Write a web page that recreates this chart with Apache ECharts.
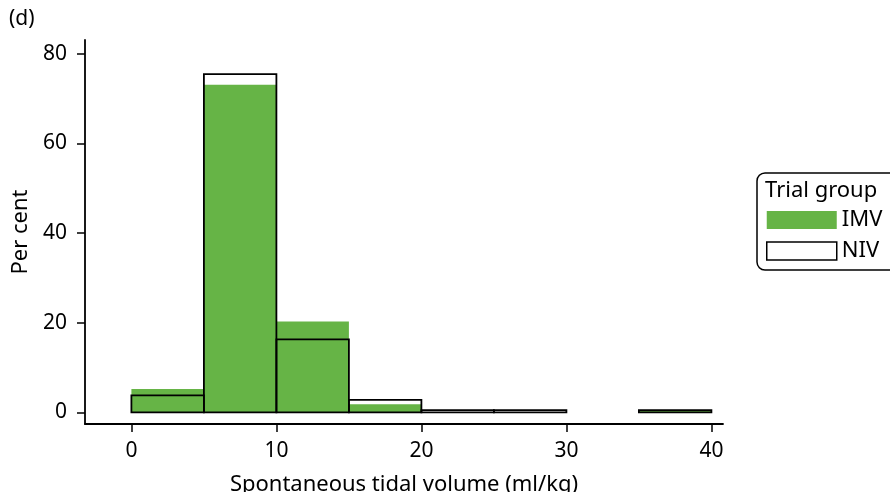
<!DOCTYPE html>
<html>
<head>
<meta charset="utf-8">
<script src="https://cdn.jsdelivr.net/npm/echarts@6/dist/echarts.min.js"></script>
<style>html,body{margin:0;padding:0;background:#fff}#c{width:890px;height:492px}</style>
</head>
<body>
<div id="c"></div>
<script>
const binStarts = [0, 5, 10, 15, 20, 25, 30, 35];
const binEnds   = [5, 10, 15, 20, 25, 30, 35, 40];
const imvValues = [5.2, 73.1, 20.3, 1.8, 0, 0, 0, 0.5];
const nivValues = [3.8, 75.5, 16.3, 2.8, 0.5, 0.5, 0, 0.5];
const xTicks = [0, 10, 20, 30, 40];
const yTicks = [0, 20, 40, 60, 80];

const GREEN = '#66b446';
const FONT = 'Noto Sans';

function rows(vals) {
  return binStarts.map((s, i) => [s, binEnds[i], vals[i]]);
}

function makeRender(style) {
  return function (params, api) {
    const v = api.value(2);
    if (!v) return null;
    const p0 = api.coord([api.value(0), v]);
    const p1 = api.coord([api.value(1), 0]);
    return {
      type: 'rect',
      shape: { x: p0[0], y: p0[1], width: p1[0] - p0[0], height: p1[1] - p0[1] },
      style: style
    };
  };
}

const chart = echarts.init(document.getElementById('c'), null, { renderer: 'canvas' });
chart.setOption({
  animation: false,
  textStyle: { fontFamily: FONT },
  title: [
    { text: '(d)', left: 4, top: 4, textStyle: { fontFamily: FONT, fontSize: 21, fontWeight: 'normal', color: '#000' } },
    { text: 'Trial group', left: 760, top: 175, textStyle: { fontFamily: FONT, fontSize: 22, fontWeight: 'normal', color: '#000' } }
  ],
  grid: { left: 85, top: 40, right: 167, bottom: 68, containLabel: false, outerBoundsMode: 'none' },
  xAxis: {
    type: 'value', min: -3.2, max: 40.8,
    name: 'Spontaneous tidal volume (ml/kg)', nameLocation: 'middle', nameGap: 50,
    nameTextStyle: { fontFamily: FONT, fontSize: 22, color: '#000' },
    axisLine: { show: true, onZero: false, lineStyle: { color: '#000', width: 1.8 } },
    axisTick: { show: true, length: 8, customValues: xTicks, lineStyle: { color: '#000', width: 1.5 } },
    axisLabel: { customValues: xTicks, fontFamily: FONT, fontSize: 21, color: '#000', margin: 17 },
    splitLine: { show: false }
  },
  yAxis: {
    type: 'value', min: -2.6, max: 83.1,
    name: 'Per cent', nameLocation: 'middle', nameGap: 52, nameRotate: 90,
    nameTextStyle: { fontFamily: FONT, fontSize: 22, color: '#000' },
    axisLine: { show: true, onZero: false, lineStyle: { color: '#000', width: 1.8 } },
    axisTick: { show: true, length: 8, customValues: yTicks, lineStyle: { color: '#000', width: 1.5 } },
    axisLabel: { customValues: yTicks, fontFamily: FONT, fontSize: 21, color: '#000', margin: 18 },
    splitLine: { show: false }
  },
  legend: {
    orient: 'vertical', left: 757, top: 173,
    padding: [36, 40, 8, 9],
    itemWidth: 70, itemHeight: 18, itemGap: 9,
    borderColor: '#000', borderWidth: 1.5, borderRadius: 8,
    backgroundColor: '#fff',
    icon: 'rect',
    textStyle: { fontFamily: FONT, fontSize: 22, color: '#000', padding: [0, 0, 0, 0] },
    data: [
      { name: 'IMV', itemStyle: { color: GREEN, borderWidth: 0 } },
      { name: 'NIV', itemStyle: { color: '#fff', borderColor: '#000', borderWidth: 1.5 } }
    ]
  },
  series: [
    {
      name: 'IMV', type: 'custom', data: rows(imvValues),
      encode: { x: [0, 1], y: 2 },
      itemStyle: { color: GREEN },
      renderItem: makeRender({ fill: GREEN, stroke: null })
    },
    {
      name: 'NIV', type: 'custom', data: rows(nivValues),
      encode: { x: [0, 1], y: 2 },
      itemStyle: { color: '#fff', borderColor: '#000' },
      z: 3,
      renderItem: makeRender({ fill: 'rgba(0,0,0,0)', stroke: '#000', lineWidth: 1.8 })
    }
  ]
});
</script>
</body>
</html>
